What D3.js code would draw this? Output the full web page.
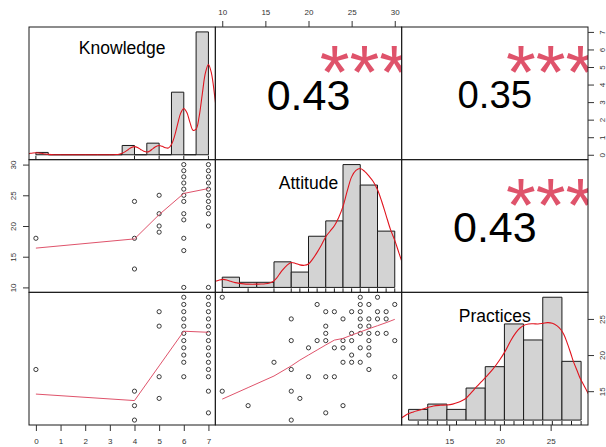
<!DOCTYPE html>
<html>
<head>
<meta charset="utf-8">
<script src="https://cdn.jsdelivr.net/npm/d3@7/dist/d3.min.js"></script>
<style>
  html, body { margin: 0; padding: 0; background: #fff; }
  svg { display: block; }
  text { font-family: "Liberation Sans", Arial, Helvetica, sans-serif; }
</style>
</head>
<body>
<svg id="chart" width="606" height="447"></svg>
<script>
// ---- variables and their axis ranges ----
const variables = ["Knowledge", "Attitude", "Practices"];

const knowledgeRange = [0, 7];
const attitudeRange = [10, 30];
const practicesRange = [11, 28];

const knowledgeTicks = [0, 1, 2, 3, 4, 5, 6, 7];
const attitudeTicks = [10, 15, 20, 25, 30];
const practicesTicks = [15, 20, 25];

// ---- histogram bins (breaks and counts) ----
const knowledgeBreaks = [0, 0.5, 1, 1.5, 2, 2.5, 3, 3.5, 4, 4.5, 5, 5.5, 6, 6.5, 7];
const knowledgeCounts = [1, 0, 0, 0, 0, 0, 0, 4, 0, 5, 0, 27, 0, 53];
const attitudeBreaks = [10, 12, 14, 16, 18, 20, 22, 24, 26, 28, 30];
const attitudeCounts = [2, 1, 1, 5, 3, 10, 13, 24, 20, 11];
const practicesBreaks = [10, 12, 14, 16, 18, 20, 22, 24, 26, 28];
const practicesCounts = [2, 3, 2, 6, 10, 18, 15, 23, 11];

// ---- kernel density curves [value, density] ----
const knowledgeDensity = [
  [-0.5, 0.0036], [-0.375, 0.0074], [-0.25, 0.0125], [-0.125, 0.017], [0, 0.019],
  [0.125, 0.017], [0.25, 0.0125], [0.375, 0.0074], [0.5, 0.0036], [0.625, 0.0014],
  [0.75, 0.0004], [1, 0], [2, 0], [3, 0], [3.125, 0.0004], [3.25, 0.0017],
  [3.375, 0.0055], [3.5, 0.014], [3.625, 0.03], [3.75, 0.051], [3.875, 0.07],
  [4, 0.078], [4.125, 0.07], [4.25, 0.051], [4.375, 0.034], [4.5, 0.026],
  [4.625, 0.037], [4.75, 0.059], [4.875, 0.079], [5, 0.088], [5.125, 0.081],
  [5.25, 0.068], [5.375, 0.065], [5.5, 0.099], [5.625, 0.178], [5.75, 0.293],
  [5.875, 0.399], [6, 0.444], [6.125, 0.404], [6.25, 0.311], [6.375, 0.235],
  [6.5, 0.245], [6.625, 0.369], [6.75, 0.58], [6.875, 0.782], [7, 0.866],
  [7.125, 0.779], [7.25, 0.57], [7.375, 0.337], [7.5, 0.162]
];
const attitudeDensity = [
  [9.2, 0.0066], [9.6, 0.0078], [10.1, 0.0087], [10.6, 0.0078], [11.0, 0.0066],
  [11.5, 0.0052], [12.0, 0.0044], [12.5, 0.0039], [13.0, 0.0036], [13.5, 0.0035],
  [14.0, 0.0036], [14.5, 0.0037], [15.0, 0.004], [15.5, 0.0049], [15.9, 0.0065],
  [16.3, 0.010], [16.6, 0.014], [17.0, 0.019], [17.5, 0.024], [18.0, 0.027],
  [18.5, 0.026], [19.0, 0.0245], [19.5, 0.024], [20.0, 0.0255], [20.5, 0.031],
  [21.0, 0.038], [21.5, 0.046], [22.0, 0.055], [22.5, 0.061], [23.0, 0.067],
  [23.5, 0.076], [24.0, 0.088], [24.5, 0.105], [25.0, 0.12], [25.5, 0.127],
  [26.0, 0.129], [26.5, 0.126], [27.0, 0.121], [27.5, 0.115], [28.0, 0.106],
  [28.5, 0.093], [29.0, 0.078], [29.5, 0.063], [30.0, 0.051], [30.5, 0.037],
  [31.0, 0.023]
];
const practicesDensity = [
  [9.0, 0.0015], [9.3, 0.0025], [9.9, 0.0063], [10.5, 0.0085], [11.2, 0.0105],
  [12.0, 0.013], [12.6, 0.0147], [13.3, 0.0154], [14.0, 0.0157], [14.6, 0.0166],
  [15.2, 0.0185], [15.6, 0.0203], [16.0, 0.0227], [16.5, 0.028], [17.1, 0.0348],
  [17.6, 0.040], [18.1, 0.0452], [18.8, 0.053], [19.5, 0.0625], [20.1, 0.072],
  [20.7, 0.0834], [21.2, 0.091], [21.6, 0.0955], [22.0, 0.0985], [22.5, 0.1],
  [23.0, 0.1002], [23.5, 0.1], [24.0, 0.1006], [24.5, 0.1014], [25.0, 0.1008],
  [25.5, 0.098], [25.9, 0.094], [26.2, 0.089], [26.5, 0.0816], [26.9, 0.07],
  [27.2, 0.0608], [27.6, 0.051], [27.9, 0.0435], [28.3, 0.036], [28.6, 0.0303],
  [29.0, 0.023]
];

// ---- rug marks (observed distinct values) ----
const knowledgeRug = [0, 4, 5, 6, 7];
const attitudeRug = [10, 13, 16, 18, 19, 20, 21, 22, 23, 24, 25, 26, 27, 28, 29, 30];
const practicesRug = [11, 12, 13, 14, 15, 17, 18, 19, 20, 21, 22, 23, 24, 25, 26, 27, 28];

// ---- scatter points [x, y] ----
const knowledgeAttitudePoints = [
  [0, 18],
  [4, 24], [4, 18], [4, 13],
  [5, 25], [5, 22], [5, 20], [5, 19],
  [6, 30], [6, 29], [6, 28], [6, 27], [6, 26], [6, 25], [6, 24], [6, 22], [6, 21], [6, 18], [6, 16], [6, 10],
  [7, 30], [7, 29], [7, 28], [7, 27], [7, 26], [7, 25], [7, 24], [7, 23], [7, 22], [7, 20], [7, 10]
];
const knowledgePracticesPoints = [
  [0, 18],
  [4, 15], [4, 13], [4, 11],
  [5, 26], [5, 24], [5, 17], [5, 14],
  [6, 28], [6, 27], [6, 26], [6, 25], [6, 24], [6, 23], [6, 22], [6, 21], [6, 20], [6, 19], [6, 17],
  [7, 28], [7, 27], [7, 26], [7, 25], [7, 24], [7, 23], [7, 22], [7, 21], [7, 20], [7, 19], [7, 18], [7, 17], [7, 15], [7, 12]
];
const attitudePracticesPoints = [
  [10, 28], [10, 15], [13, 13], [16, 19],
  [18, 25], [18, 22], [18, 18], [18, 15], [18, 11],
  [19, 14],
  [20, 21], [20, 17],
  [21, 27], [21, 22],
  [22, 26], [22, 24], [22, 23], [22, 22], [22, 17], [22, 12],
  [23, 26], [23, 21], [23, 17],
  [24, 25], [24, 22], [24, 21], [24, 19], [24, 13],
  [25, 26], [25, 23], [25, 22], [25, 20], [25, 19],
  [26, 28], [26, 27], [26, 26], [26, 25], [26, 24], [26, 23], [26, 21], [26, 19],
  [27, 27], [27, 25], [27, 24], [27, 23], [27, 22], [27, 21], [27, 20], [27, 18],
  [28, 28], [28, 26], [28, 25], [28, 23],
  [29, 26], [29, 25], [29, 23],
  [30, 27], [30, 22], [30, 17]
];

// ---- lowess smoothers [x, fitted y] ----
const knowledgeAttitudeSmooth = [[0, 16.4], [4, 17.9], [5, 21.85], [6, 25.3], [7, 26.1]];
const knowledgePracticesSmooth = [[0, 14.6], [4, 13.7], [5, 18.5], [6, 23.3], [7, 23.15]];
const attitudePracticesSmooth = [
  [10, 13.9], [13, 15.5], [16, 17.1], [18, 18.5], [19, 19.3], [20, 20.0], [21, 20.7],
  [22, 21.4], [23, 22.07], [24, 22.3], [25, 22.76], [26, 23.2], [27, 23.64],
  [28, 24.06], [29, 24.48], [30, 24.94]
];

// ---- Pearson correlations and significance stars ----
const correlationPairs = [["Knowledge", "Attitude"], ["Knowledge", "Practices"], ["Attitude", "Practices"]];
const correlationValues = [0.43, 0.35, 0.43];
const correlationStars = ["***", "***", "***"];

// ================= drawing =================
const svg = d3.select("#chart");
const gridLeft = 29, gridTop = 27, gridRight = 588, gridBottom = 425;
const nVar = variables.length;
const cellW = (gridRight - gridLeft) / nVar;
const cellH = (gridBottom - gridTop) / nVar;
const cellX = j => gridLeft + j * cellW;
const cellY = i => gridTop + i * cellH;

const pad = ([a, b]) => { const d = (b - a) * 0.04; return [a - d, b + d]; };

const info = {
  Knowledge: { range: knowledgeRange, ticks: knowledgeTicks, breaks: knowledgeBreaks, counts: knowledgeCounts, density: knowledgeDensity, rug: knowledgeRug },
  Attitude: { range: attitudeRange, ticks: attitudeTicks, breaks: attitudeBreaks, counts: attitudeCounts, density: attitudeDensity, rug: attitudeRug },
  Practices: { range: practicesRange, ticks: practicesTicks, breaks: practicesBreaks, counts: practicesCounts, density: practicesDensity, rug: practicesRug }
};

const scatter = {
  "Knowledge|Attitude": { points: knowledgeAttitudePoints, smooth: knowledgeAttitudeSmooth },
  "Knowledge|Practices": { points: knowledgePracticesPoints, smooth: knowledgePracticesSmooth },
  "Attitude|Practices": { points: attitudePracticesPoints, smooth: attitudePracticesSmooth }
};

const correlations = {};
correlationPairs.forEach((p, k) => {
  correlations[p.join("|")] = { r: correlationValues[k], stars: correlationStars[k] };
});

const colScale = j => d3.scaleLinear().domain(pad(info[variables[j]].range)).range([cellX(j), cellX(j) + cellW]);
const rowScale = i => d3.scaleLinear().domain(pad(info[variables[i]].range)).range([cellY(i) + cellH, cellY(i)]);

const FONT = '"Liberation Sans", Arial, sans-serif';
const measureCtx = document.createElement("canvas").getContext("2d");
function textWidth(str, size) {
  measureCtx.font = `${size}px ${FONT}`;
  return measureCtx.measureText(str).width;
}

// clip paths, one per cell
const defs = svg.append("defs");
for (let i = 0; i < nVar; i++) {
  for (let j = 0; j < nVar; j++) {
    defs.append("clipPath").attr("id", `clip-${i}-${j}`)
      .append("rect").attr("x", cellX(j)).attr("y", cellY(i)).attr("width", cellW).attr("height", cellH);
  }
}

const INK = "#1a1a1a";
const SMOOTH_COL = "#DF536B";
const DENSITY_COL = "#e0141e";

// ---- diagonal: histogram, density, rug, label ----
function drawDiagonal(i) {
  const name = variables[i];
  const v = info[name];
  const g = svg.append("g").attr("clip-path", `url(#clip-${i}-${i})`);
  const total = d3.sum(v.counts);
  const bins = v.counts.map((c, k) => ({
    x0: v.breaks[k], x1: v.breaks[k + 1],
    d: c / (total * (v.breaks[k + 1] - v.breaks[k]))
  }));
  const x = d3.scaleLinear().domain(pad([v.breaks[0], v.breaks[v.breaks.length - 1]])).range([cellX(i), cellX(i) + cellW]);
  const y = d3.scaleLinear().domain(pad([0, d3.max(bins, b => b.d)])).range([cellY(i) + cellH, cellY(i)]);

  g.selectAll("path.bar").data(bins).join("path")
    .attr("class", "bar")
    .attr("d", b => `M${x(b.x0)},${y(0)}V${y(b.d)}H${x(b.x1)}V${y(0)}Z`)
    .attr("fill", "#d3d3d3")
    .attr("stroke", INK)
    .attr("stroke-width", 1);

  g.append("path").datum(v.density)
    .attr("d", d3.line().x(d => x(d[0])).y(d => y(d[1])).curve(d3.curveCatmullRom.alpha(0.5)))
    .attr("fill", "none")
    .attr("stroke", DENSITY_COL)
    .attr("stroke-width", 1.1);

  const base = cellY(i) + cellH;
  const tick = 0.03 * cellH;
  g.selectAll("line.rug").data(v.rug).join("line")
    .attr("class", "rug")
    .attr("x1", d => x(d)).attr("x2", d => x(d))
    .attr("y1", base).attr("y2", base - tick)
    .attr("stroke", INK).attr("stroke-width", 1);

  const fs = 17.5;
  const ly = cellY(i) + cellH * (1 - 0.8333);
  const hasDescender = /[gjpqy]/.test(name);
  svg.append("text")
    .attr("x", cellX(i) + cellW / 2)
    .attr("y", ly + 0.358 * fs + 0.8 - (hasDescender ? 0.1 * fs : 0))
    .attr("text-anchor", "middle")
    .attr("font-size", fs)
    .attr("fill", "#000")
    .text(name);
}

// ---- lower: scatter with smoother ----
function drawLower(i, j) {
  const key = variables[j] + "|" + variables[i];
  const s = scatter[key];
  const x = colScale(j), y = rowScale(i);
  const g = svg.append("g").attr("clip-path", `url(#clip-${i}-${j})`);
  g.selectAll("circle").data(s.points).join("circle")
    .attr("cx", d => x(d[0])).attr("cy", d => y(d[1]))
    .attr("r", 2.1)
    .attr("fill", "none")
    .attr("stroke", INK)
    .attr("stroke-width", 0.85);
  g.append("path").datum(s.smooth)
    .attr("d", d3.line().x(d => x(d[0])).y(d => y(d[1])))
    .attr("fill", "none")
    .attr("stroke", SMOOTH_COL)
    .attr("stroke-width", 1);
}

// ---- upper: correlation text and stars ----
function drawUpper(i, j) {
  const key = variables[i] + "|" + variables[j];
  const c = correlations[key];
  const txt = c.r.toFixed(2);
  const fullSize = 0.8 * cellW / textWidth(txt, 1);
  const numSize = fullSize * (Math.abs(c.r) + 0.3) / 1.3;
  const g = svg.append("g").attr("clip-path", `url(#clip-${i}-${j})`);
  const cx = cellX(j) + cellW / 2, cy = cellY(i) + cellH / 2;
  g.append("text")
    .attr("x", cx).attr("y", cy + 0.38 * numSize)
    .attr("text-anchor", "middle")
    .attr("font-size", numSize)
    .attr("fill", "#000")
    .text(txt);
  const sx = cellX(j) + 0.8 * cellW, sy = cellY(i) + 0.2 * cellH;
  g.append("text")
    .attr("x", sx).attr("y", sy + 0.574 * fullSize + 0.7)
    .attr("text-anchor", "middle")
    .attr("font-size", fullSize)
    .attr("fill", SMOOTH_COL)
    .text(c.stars);
}

for (let i = 0; i < nVar; i++) {
  for (let j = 0; j < nVar; j++) {
    if (i === j) drawDiagonal(i);
    else if (i > j) drawLower(i, j);
    else drawUpper(i, j);
  }
}

// ---- panel frames ----
for (let i = 0; i < nVar; i++) {
  for (let j = 0; j < nVar; j++) {
    svg.append("rect")
      .attr("x", cellX(j)).attr("y", cellY(i))
      .attr("width", cellW).attr("height", cellH)
      .attr("fill", "none").attr("stroke", INK).attr("stroke-width", 1);
  }
}

// ---- axes, alternating sides like a pairs plot ----
const AXIS_FS = 8;
function styleAxis(g) {
  g.select(".domain").remove();
  g.selectAll(".tick line").attr("stroke", "#333");
  g.selectAll(".tick text").attr("fill", "#333").attr("font-size", AXIS_FS)
    .attr("font-family", FONT);
}

for (let j = 0; j < nVar; j++) {
  const v = info[variables[j]];
  const x = colScale(j);
  if (j % 2 === 1) {
    svg.append("g").attr("transform", `translate(0,${gridTop})`)
      .call(d3.axisTop(x).tickValues(v.ticks).tickSize(6).tickSizeOuter(0).tickPadding(5.85))
      .call(styleAxis);
  } else {
    svg.append("g").attr("transform", `translate(0,${gridBottom})`)
      .call(d3.axisBottom(x).tickValues(v.ticks).tickSize(6).tickSizeOuter(0).tickPadding(7.35))
      .call(styleAxis);
  }
}

for (let i = 0; i < nVar; i++) {
  const v = info[variables[i]];
  const y = rowScale(i);
  if (i % 2 === 1) {
    const g = svg.append("g").attr("transform", `translate(${gridLeft},0)`)
      .call(d3.axisLeft(y).tickValues(v.ticks).tickSize(6).tickSizeOuter(0))
      .call(styleAxis);
    g.selectAll(".tick text")
      .attr("transform", "rotate(-90)")
      .attr("text-anchor", "middle")
      .attr("x", 0).attr("y", -15.7).attr("dy", "0.35em");
  } else {
    const g = svg.append("g").attr("transform", `translate(${gridRight},0)`)
      .call(d3.axisRight(y).tickValues(v.ticks).tickSize(6).tickSizeOuter(0))
      .call(styleAxis);
    g.selectAll(".tick text")
      .attr("transform", "rotate(-90)")
      .attr("text-anchor", "middle")
      .attr("x", 0).attr("y", 13.8).attr("dy", "0.35em");
  }
}
</script>
</body>
</html>
